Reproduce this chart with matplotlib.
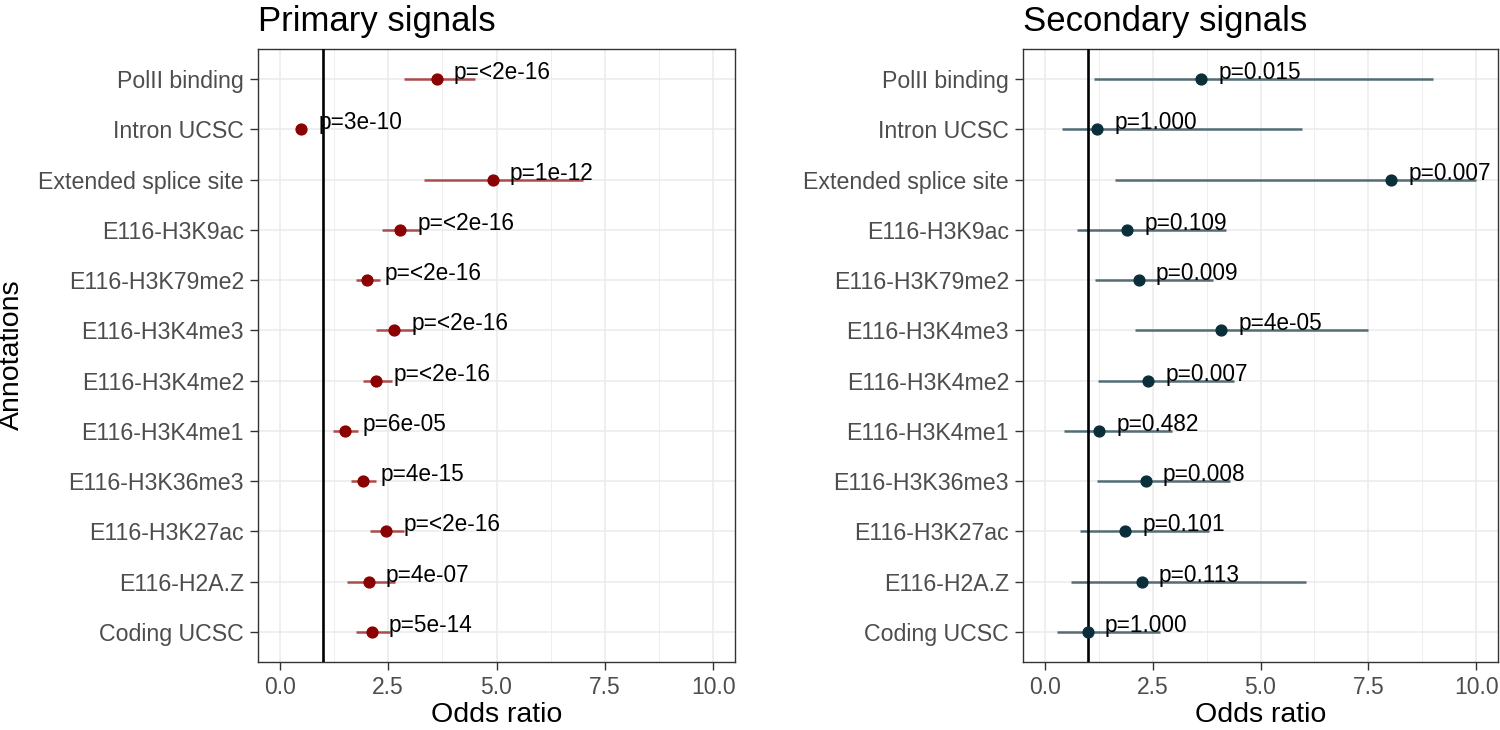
import numpy as np
import matplotlib
matplotlib.use("Agg")
import matplotlib.pyplot as plt
from matplotlib.ticker import MultipleLocator

plt.rcParams['font.family'] = ['Liberation Sans', 'DejaVu Sans']

# annotations, top to bottom
annotations = ["PolII binding", "Intron UCSC", "Extended splice site", "E116-H3K9ac",
               "E116-H3K79me2", "E116-H3K4me3", "E116-H3K4me2", "E116-H3K4me1",
               "E116-H3K36me3", "E116-H3K27ac", "E116-H2A.Z", "Coding UCSC"]

# primary signals
prim_or = [3.62, 0.49, 4.91, 2.77, 2.02, 2.63, 2.23, 1.50, 1.92, 2.45, 2.05, 2.12]
prim_lo = [2.86, 0.45, 3.33, 2.35, 1.75, 2.23, 1.92, 1.23, 1.64, 2.08, 1.56, 1.75]
prim_hi = [4.51, 0.53, 6.99, 3.23, 2.32, 3.12, 2.58, 1.81, 2.23, 2.86, 2.66, 2.54]
prim_p = ["<2e-16", "3e-10", "1e-12", "<2e-16", "<2e-16", "<2e-16", "<2e-16",
          "6e-05", "4e-15", "<2e-16", "4e-07", "5e-14"]

# secondary signals
sec_or = [3.63, 1.21, 8.03, 1.91, 2.18, 4.09, 2.39, 1.27, 2.34, 1.87, 2.25, 1.00]
sec_lo = [1.15, 0.41, 1.62, 0.75, 1.17, 2.10, 1.23, 0.46, 1.21, 0.82, 0.61, 0.28]
sec_hi = [8.99, 5.97, 10.0, 4.20, 3.90, 7.50, 4.38, 2.94, 4.29, 3.80, 6.05, 2.67]
sec_p = ["0.015", "1.000", "0.007", "0.109", "0.009", "4e-05", "0.007",
         "0.482", "0.008", "0.101", "0.113", "1.000"]


def forest_panel(ax, odds, lo, hi, pvals, point_col, line_col, title):
    y = np.arange(1, len(annotations) + 1)
    ax.set_facecolor("white")
    ax.hlines(y, lo, hi, color=line_col, lw=1.8, zorder=3)
    ax.axvline(1, color="black", lw=1.9, zorder=4)
    ax.plot(odds, y, "o", color=point_col, ms=7.8, zorder=5)
    for xi, yi, p in zip(odds, y, pvals):
        ax.text(xi + 0.4, yi, "p=" + p, fontsize=16.3, color="black",
                ha="left", va="baseline", zorder=6)

    ax.set_xlim(-0.5, 10.5)
    ax.set_ylim(len(annotations) + 0.6, 0.4)
    ax.set_yticks(y)
    ax.set_yticklabels(annotations)
    ax.xaxis.set_minor_locator(MultipleLocator(1.25))
    ax.set_xticks([0, 2.5, 5, 7.5, 10])
    ax.set_xticklabels(["0.0", "2.5", "5.0", "7.5", "10.0"])

    ax.grid(which="major", color="#EBEBEB", lw=1.1, zorder=0)
    ax.grid(which="minor", axis="x", color="#EBEBEB", lw=0.6, zorder=0)
    ax.set_axisbelow(True)
    ax.tick_params(which="major", length=6, width=1, color="#333333",
                   labelcolor="#4D4D4D", labelsize=16.7, pad=4)
    ax.tick_params(axis="x", labelsize=16.5)
    ax.tick_params(which="minor", length=0)
    for s in ax.spines.values():
        s.set_color("#333333")
        s.set_linewidth(1.0)

    ax.set_xlabel("Odds ratio", fontsize=20.5, labelpad=2)
    ax.set_title(title, loc="left", fontsize=25, pad=13)


fig = plt.figure(figsize=(15, 7.3), dpi=100)
W, H = 1500, 730
ax1 = fig.add_axes([258 / W, 1 - 662 / H, 477 / W, 613 / H])
ax2 = fig.add_axes([1023 / W, 1 - 662 / H, 475 / W, 613 / H])

forest_panel(ax1, prim_or, prim_lo, prim_hi, prim_p, "#8B0000", "#AD4C4C", "Primary signals")
forest_panel(ax2, sec_or, sec_lo, sec_hi, sec_p, "#0B2F3A", "#546D75", "Secondary signals")

fig.text(12 / W, 1 - 355 / H, "Annotations", rotation=90, fontsize=20.5,
         ha="center", va="center")

fig.savefig("out.png", dpi=100, facecolor="white")
